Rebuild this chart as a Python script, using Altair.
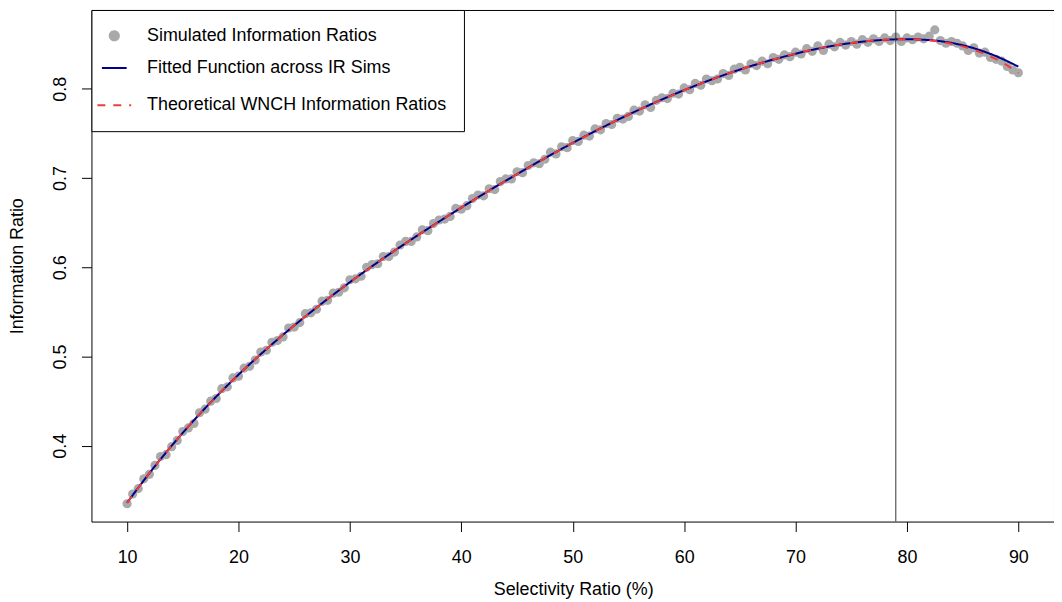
import altair as alt
import pandas as pd

# ---------------- data ----------------
SIM_NAME = "Simulated Information Ratios"
FIT_NAME = "Fitted Function across IR Sims"
THEO_NAME = "Theoretical WNCH Information Ratios"

# simulated IRs at selectivity 10, 10.5, ..., 90
sim_x = [v / 2 for v in range(20, 181)]
sim_ir = [
    0.335, 0.346, 0.352, 0.363, 0.368, 0.378, 0.388, 0.390, 0.399, 0.406,
    0.416, 0.420, 0.425, 0.437, 0.441, 0.450, 0.453, 0.464, 0.466, 0.476,
    0.478, 0.487, 0.489, 0.496, 0.505, 0.507, 0.516, 0.518, 0.522, 0.532,
    0.533, 0.538, 0.548, 0.549, 0.553, 0.562, 0.563, 0.571, 0.572, 0.577,
    0.586, 0.587, 0.590, 0.600, 0.603, 0.604, 0.612, 0.612, 0.617, 0.625,
    0.629, 0.629, 0.634, 0.642, 0.641, 0.649, 0.653, 0.654, 0.657, 0.666,
    0.665, 0.669, 0.677, 0.681, 0.680, 0.688, 0.687, 0.696, 0.699, 0.699,
    0.707, 0.706, 0.714, 0.717, 0.716, 0.721, 0.729, 0.727, 0.735, 0.734,
    0.742, 0.741, 0.748, 0.747, 0.755, 0.754, 0.761, 0.760, 0.767, 0.766,
    0.769, 0.776, 0.775, 0.782, 0.779, 0.787, 0.790, 0.789, 0.795, 0.794,
    0.801, 0.799, 0.806, 0.804, 0.811, 0.809, 0.811, 0.817, 0.815, 0.822,
    0.824, 0.821, 0.828, 0.826, 0.831, 0.828, 0.835, 0.833, 0.838, 0.836,
    0.841, 0.839, 0.845, 0.842, 0.848, 0.843, 0.850, 0.847, 0.852, 0.849,
    0.853, 0.850, 0.855, 0.852, 0.856, 0.853, 0.857, 0.854, 0.858, 0.853,
    0.857, 0.855, 0.858, 0.856, 0.859, 0.866, 0.854, 0.851, 0.853, 0.851,
    0.848, 0.843, 0.846, 0.840, 0.841, 0.835, 0.833, 0.831, 0.825, 0.821,
    0.818,
]

# curves at selectivity 10, 11, ..., 90
curve_x = list(range(10, 91))
theo_ir = [
    0.3360, 0.3529, 0.3692, 0.3849, 0.4000, 0.4145, 0.4285, 0.4420, 0.4550, 0.4675,
    0.4796, 0.4913, 0.5026, 0.5136, 0.5243, 0.5347, 0.5448, 0.5547, 0.5644, 0.5739,
    0.5832, 0.5923, 0.6012, 0.6099, 0.6184, 0.6268, 0.6350, 0.6431, 0.6511, 0.6590,
    0.6668, 0.6745, 0.6821, 0.6896, 0.6970, 0.7043, 0.7115, 0.7186, 0.7256, 0.7325,
    0.7393, 0.7459, 0.7524, 0.7587, 0.7649, 0.7709, 0.7767, 0.7824, 0.7879, 0.7932,
    0.7984, 0.8034, 0.8082, 0.8128, 0.8172, 0.8214, 0.8254, 0.8292, 0.8328, 0.8362,
    0.8394, 0.8424, 0.8451, 0.8475, 0.8496, 0.8514, 0.8529, 0.8541, 0.8550, 0.8555,
    0.8556, 0.8552, 0.8543, 0.8529, 0.8505, 0.8475, 0.8438, 0.8390, 0.8333, 0.8262,
    0.8178,
]
fit_ir = [
    0.3362, 0.3530, 0.3693, 0.3850, 0.4001, 0.4146, 0.4286, 0.4421, 0.4551, 0.4676,
    0.4797, 0.4914, 0.5027, 0.5137, 0.5244, 0.5348, 0.5449, 0.5548, 0.5645, 0.5740,
    0.5833, 0.5924, 0.6013, 0.6100, 0.6185, 0.6269, 0.6351, 0.6432, 0.6512, 0.6591,
    0.6669, 0.6746, 0.6822, 0.6897, 0.6971, 0.7044, 0.7116, 0.7187, 0.7257, 0.7326,
    0.7394, 0.7460, 0.7525, 0.7588, 0.7650, 0.7710, 0.7768, 0.7825, 0.7880, 0.7933,
    0.7985, 0.8035, 0.8083, 0.8129, 0.8173, 0.8215, 0.8255, 0.8292, 0.8328, 0.8361,
    0.8393, 0.8423, 0.8450, 0.8474, 0.8495, 0.8513, 0.8528, 0.8540, 0.8549, 0.8554,
    0.8556, 0.8553, 0.8546, 0.8534, 0.8515, 0.8488, 0.8455, 0.8414, 0.8366, 0.8310,
    0.8248,
]

peak_x = [79]

x_ticks = [10, 20, 30, 40, 50, 60, 70, 80, 90]
y_ticks = [0.4, 0.5, 0.6, 0.7, 0.8]

names = [SIM_NAME, FIT_NAME, THEO_NAME]
colors = ["#A9A9A9", "#00008B", "#F03C3C"]
shapes = ["circle", "stroke", "stroke"]
dashes = [[1, 0], [1, 0], [8, 8]]
sizes = [85, 1156, 1156]

# ---------------- tables ----------------
sim_df = pd.DataFrame({"sel": sim_x, "ir": sim_ir, "series": SIM_NAME})
fit_df = pd.DataFrame({"sel": curve_x, "ir": fit_ir, "series": FIT_NAME})
theo_df = pd.DataFrame({"sel": curve_x, "ir": theo_ir, "series": THEO_NAME})
peak_df = pd.DataFrame({"sel": peak_x})

FONT = "Liberation Sans"

x_scale = alt.Scale(domain=[6.8, 93.2], nice=False, zero=False)
y_scale = alt.Scale(domain=[0.3151, 0.8883], nice=False, zero=False)

x_axis = alt.Axis(
    values=x_ticks, format="d", grid=False, domain=False,
    tickSize=10, tickColor="black", tickWidth=1,
    labelFont=FONT, labelFontSize=18, labelColor="black", labelPadding=17,
    title="Selectivity Ratio (%)", titleFont=FONT, titleFontSize=18,
    titleFontWeight="normal", titleColor="black",
    titleBaseline="alphabetic", titleY=73, titleX=485, titleAlign="center",
)
y_axis = alt.Axis(
    values=y_ticks, format=".1f", grid=False, domain=False,
    tickSize=10, tickColor="black", tickWidth=1,
    labelFont=FONT, labelFontSize=18, labelColor="black", labelPadding=16,
    labelAngle=270, labelAlign="center", labelBaseline="alphabetic",
    title="Information Ratio", titleFont=FONT, titleFontSize=18,
    titleFontWeight="normal", titleColor="black", titleAngle=270,
    titleBaseline="alphabetic", titleAlign="center", titleX=-69, titleY=257.5,
)

legend = alt.Legend(
    title=None, orient="none", legendX=0, legendY=0, direction="vertical",
    strokeColor="black", fillColor="white", padding=17,
    labelFont=FONT, labelFontSize=18, labelColor="black", labelLimit=500,
    labelOffset=15, symbolOffset=-12, symbolStrokeWidth=2, rowPadding=10,
    symbolOpacity=1,
)

color_enc = alt.Color("series:N", scale=alt.Scale(domain=names, range=colors), legend=legend)
shape_enc = alt.Shape("series:N", scale=alt.Scale(domain=names, range=shapes), legend=legend)
size_enc = alt.Size("series:N", scale=alt.Scale(domain=names, range=sizes), legend=legend)
dash_enc = alt.StrokeDash("series:N", scale=alt.Scale(domain=names, range=dashes), legend=legend)

points = alt.Chart(sim_df).mark_point(filled=True, opacity=1).encode(
    x=alt.X("sel:Q", scale=x_scale, axis=x_axis),
    y=alt.Y("ir:Q", scale=y_scale, axis=y_axis),
    color=color_enc,
    shape=shape_enc,
    size=size_enc,
)

fit_line = alt.Chart(fit_df).mark_line(strokeWidth=2).encode(
    x=alt.X("sel:Q", scale=x_scale),
    y=alt.Y("ir:Q", scale=y_scale),
    color=color_enc,
    strokeDash=dash_enc,
)

theo_line = alt.Chart(theo_df).mark_line(strokeWidth=2).encode(
    x=alt.X("sel:Q", scale=x_scale),
    y=alt.Y("ir:Q", scale=y_scale),
    color=color_enc,
    strokeDash=dash_enc,
)

peak_rule = alt.Chart(peak_df).mark_rule(color="#333333", strokeWidth=1).encode(
    x=alt.X("sel:Q", scale=x_scale),
)

chart = alt.layer(points, fit_line, theo_line, peak_rule).properties(
    width=969, height=515,
    autosize=alt.AutoSizeParams(type="none"),
    padding={"left": 84, "top": 0, "right": 0, "bottom": 79},
    background="white",
).configure_view(stroke="black", strokeWidth=1)

chart.save("out.html", embed_options={"renderer": "svg", "actions": False})
